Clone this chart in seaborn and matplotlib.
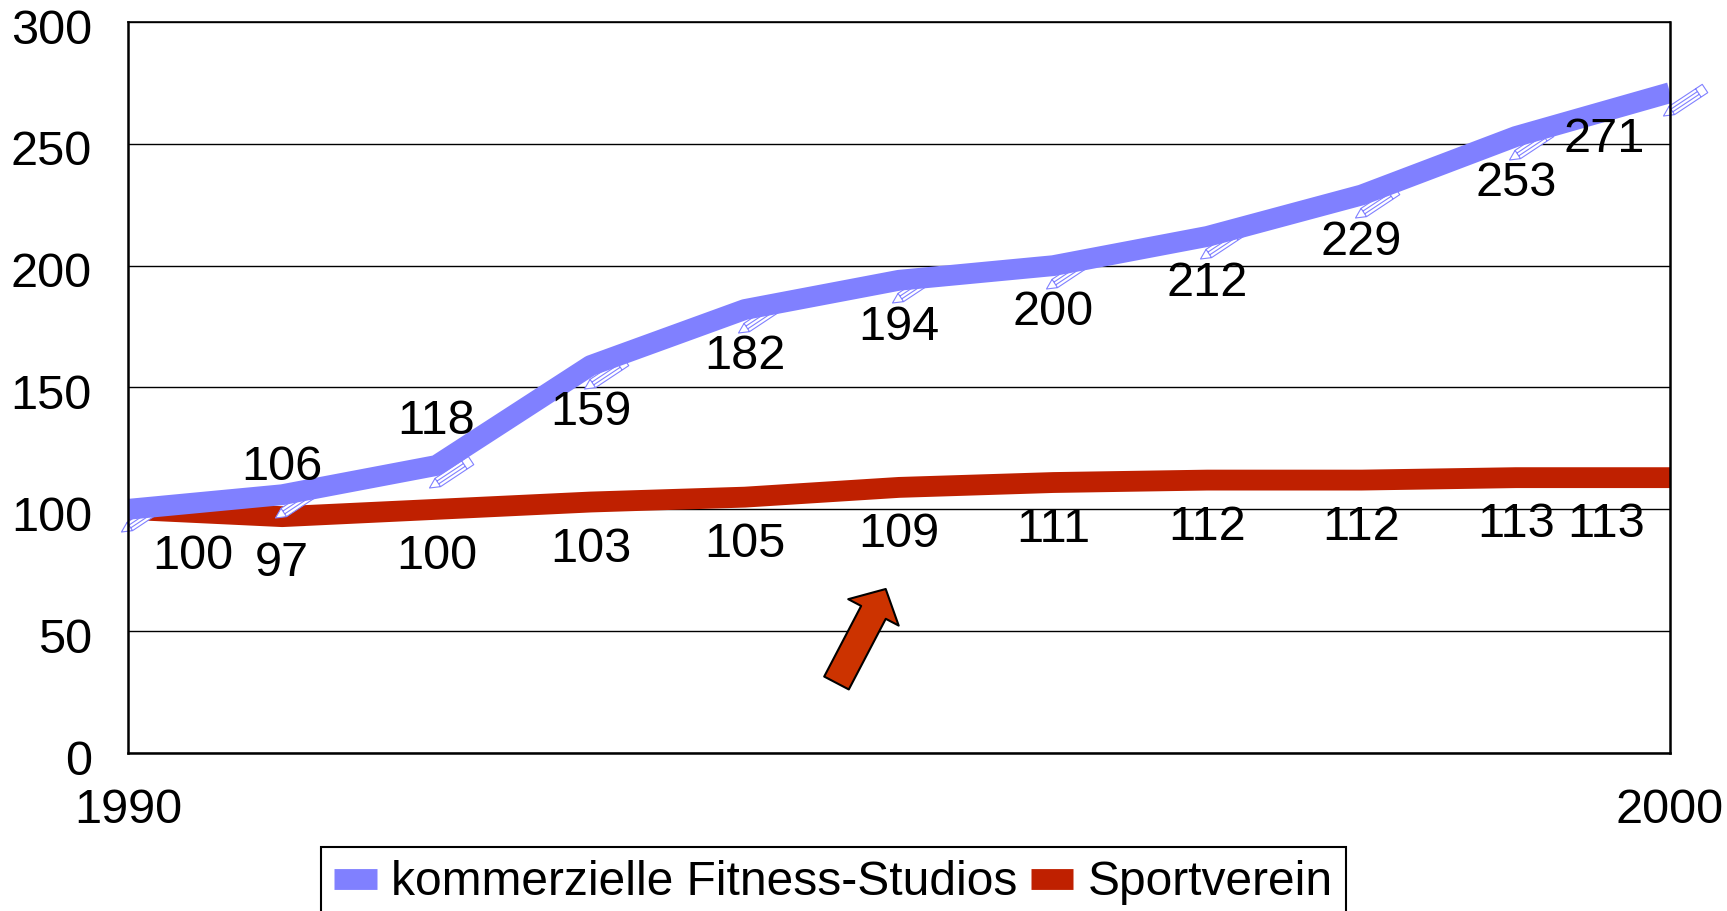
import pandas as pd
import matplotlib.pyplot as plt
import seaborn as sns
from matplotlib.path import Path
from matplotlib.transforms import ScaledTranslation

# Data
years = [1990, 1991, 1992, 1993, 1994, 1995, 1996, 1997, 1998, 1999, 2000]
fitness = [100, 106, 118, 159, 182, 194, 200, 212, 229, 253, 271]
sportverein = [100, 97, 100, 103, 105, 109, 111, 112, 112, 113, 113]
series_names = ["kommerzielle Fitness-Studios", "Sportverein"]
fitness_labels = ["", "106", "118", "159", "182", "194", "200", "212", "229", "253", "271"]
verein_labels = ["100", "97", "100", "103", "105", "109", "111", "112", "112", "113", "113"]

BLUE = "#8080FF"
RED = "#BF2000"

df = pd.DataFrame({
    "year": years * 2,
    "value": fitness + sportverein,
    "series": [series_names[0]] * len(years) + [series_names[1]] * len(years),
})

sns.set_style("white")
plt.rcParams["font.family"] = ["Liberation Sans", "DejaVu Sans"]
plt.rcParams["text.color"] = "black"
plt.rcParams["xtick.labelcolor"] = "black"
plt.rcParams["ytick.labelcolor"] = "black"

W, H = 1727, 911
fig = plt.figure(figsize=(W / 100, H / 100), dpi=100)
ax = fig.add_axes([128 / W, 1 - 753 / H, (1670 - 128) / W, (753 - 22) / H])

sns.lineplot(data=df, x="year", y="value", hue="series", hue_order=series_names,
             palette=[BLUE, RED], linewidth=15, solid_capstyle="butt", ax=ax)
ax.lines[0].set_zorder(4)
ax.lines[1].set_zorder(3)

ax.set_xlim(1990, 2000)
ax.set_ylim(0, 300)
ax.set_xticks([1990, 2000])
ax.set_yticks(range(0, 301, 50))
ax.set_xlabel("")
ax.set_ylabel("")
ax.tick_params(axis="y", labelsize=35, length=0, pad=26, labelcolor="black")
ax.tick_params(axis="x", labelsize=35, length=0, pad=25, labelcolor="black")
ax.grid(axis="y", color="black", linewidth=1)
ax.grid(axis="x", visible=False)
ax.set_axisbelow(True)
for s in ax.spines.values():
    s.set_color("black")
    s.set_linewidth(1.8)
    s.set_zorder(5)
ax.spines["top"].set_linewidth(1.2)

# y labels sit a little lower than the gridlines
for lab in ax.get_yticklabels():
    lab.set_transform(lab.get_transform() + ScaledTranslation(0, -3 / 72, fig.dpi_scale_trans))

# pencil marker, drawn around the data point (pixel units, y up)
tx, ty = -7.0, -22.5
ux, uy = 0.83, 0.55
px, py = -0.55 * 5, 0.83 * 5


def along(d, w=0.0):
    return (tx + ux * d + px * w, ty + uy * d + py * w)


verts = [along(0), along(10, 1), along(50, 1), along(50, -1), along(10, -1), along(0),
         along(10, 1), along(10, -1),
         along(10, 0.33), along(42, 0.33),
         along(10, -0.33), along(42, -0.33),
         along(42, 1), along(42, -1)]
codes = [Path.MOVETO] + [Path.LINETO] * 4 + [Path.CLOSEPOLY]
codes += [Path.MOVETO, Path.LINETO] * 4
pencil = Path(verts, codes)
reach = max(abs(v) for p in verts for v in p)
ax.plot(years, fitness, linestyle="none", marker=pencil, markersize=2 * reach * 0.72,
        markerfacecolor="white", markeredgecolor=BLUE, markeredgewidth=0.8,
        clip_on=False, zorder=3.5)

# value labels (offsets in pixels)
fitness_offsets = [(0, 0), (0, 27), (0, 44)] + [(0, -47)] * 7 + [(-66, -47)]
verein_offsets = [(65, -47)] + [(0, -47)] * 9 + [(-64, -47)]


def put_labels(values, labels, offsets):
    for x, y, t, (dx, dy) in zip(years, values, labels, offsets):
        if t:
            ax.annotate(t, (x, y), xytext=(dx * 0.72, dy * 0.72), textcoords="offset points",
                        ha="center", va="center", fontsize=35, color="black",
                        annotation_clip=False, zorder=6)


put_labels(fitness, fitness_labels, fitness_offsets)
put_labels(sportverein, verein_labels, verein_offsets)

# red arrow under the chart lines
ax.annotate("", xy=(885.7, H - 589), xytext=(836.5, H - 683),
            xycoords="figure pixels", textcoords="figure pixels",
            arrowprops=dict(width=20, headwidth=41, headlength=19,
                            facecolor="#CC3300", edgecolor="black", linewidth=1.5),
            zorder=6)

handles, labels = ax.get_legend_handles_labels()
leg = ax.legend(handles, labels, ncol=2, loc="upper left",
                bbox_to_anchor=(321 / W, 1 - 847 / H), bbox_transform=fig.transFigure,
                borderaxespad=0, fontsize=34.5, frameon=True, fancybox=False, framealpha=1,
                edgecolor="black", handlelength=0.88, handletextpad=0.3,
                columnspacing=0.29, borderpad=0.28, labelcolor="black")
leg.get_frame().set_linewidth(1.5)

fig.savefig("out.png", dpi=100)
